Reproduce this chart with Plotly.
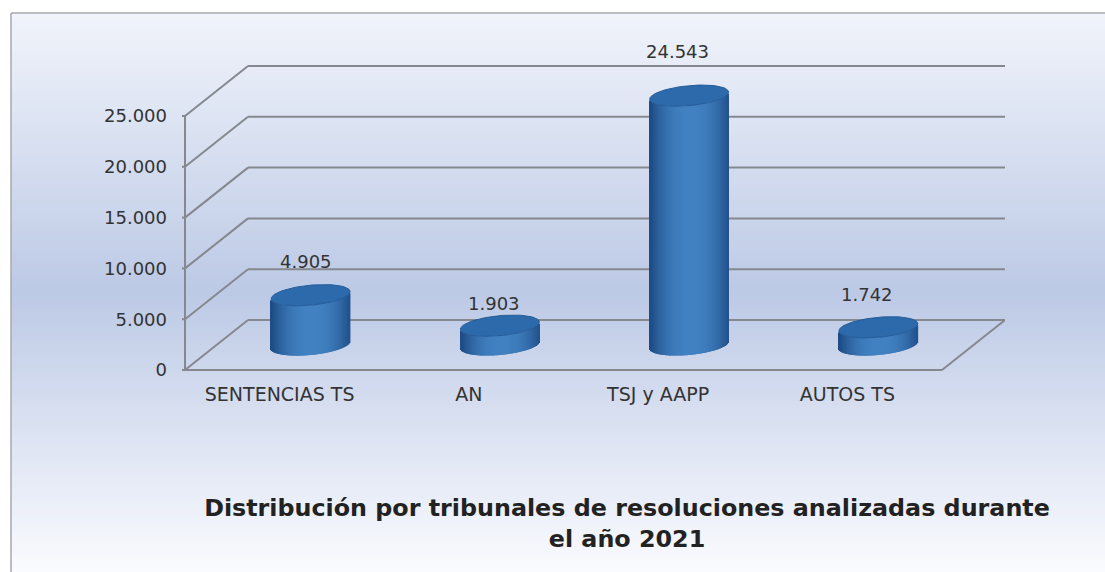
import numpy as np
import plotly.graph_objects as go

categories = ["SENTENCIAS TS", "AN", "TSJ y AAPP", "AUTOS TS"]
values = [4905, 1903, 24543, 1742]
value_labels = ["4.905", "1.903", "24.543", "1.742"]
y_ticks = [0, 5000, 10000, 15000, 20000, 25000]
y_tick_labels = ["0", "5.000", "10.000", "15.000", "20.000", "25.000"]
label_shift_x = [-5, -6, -12, -11]
label_shift_y = [34, 22, 44, 33]

PX_PER_CAT = 189.25
PX_PER_UNIT = 0.01016
DEPTH_X = 63 / PX_PER_CAT
DEPTH_Y = 50 / PX_PER_UNIT
X0, X1 = -0.5, 3.5
RX, RY, TILT = 39.5, 10.0, -0.09
CENTER_DX, CENTER_DY = 31 / PX_PER_CAT, 25 / PX_PER_UNIT
GRID = "#85888f"
TEXT = "#333333"
DARK = np.array([30, 76, 134])
BRIGHT = np.array([66, 130, 194])
CAP = "#2c6aab"
CAP_EDGE = "#255c99"

# plot-area box in page pixels
L, R, T, B = 181, 1005, 60, 374
W, H = R - L, B - T


def px(x):
    return (x - L) / W


def py(y):
    return (B - y) / H


fig = go.Figure()

# cylinders: each drawn as a fan of narrow bars with an elliptical base
for i, v in enumerate(values):
    cx = i + CENTER_DX
    dx_px = np.arange(-RX + 0.5, RX, 1.0)
    t = dx_px / RX
    low = TILT * dx_px + RY * np.sqrt(1 - t**2)      # px below floor centre
    base = CENTER_DY - low / PX_PER_UNIT
    shade = np.clip(1 - np.abs(t - 0.05) ** 2.2, 0, 1)
    cols = [f"rgb({a},{b},{c})" for a, b, c in
            (DARK + (BRIGHT - DARK)[None, :] * shade[:, None]).astype(int)]
    fig.add_trace(go.Bar(
        x=cx + dx_px / PX_PER_CAT, y=[v] * len(dx_px), base=base,
        width=1.6 / PX_PER_CAT, marker=dict(color=cols, line=dict(width=0)),
        hoverinfo="skip", showlegend=False))
    a = np.linspace(0, 2 * np.pi, 90)
    ex = RX * np.cos(a)
    ey = RY * np.sin(a) + TILT * ex
    fig.add_trace(go.Scatter(
        x=cx + ex / PX_PER_CAT, y=CENTER_DY + v - ey / PX_PER_UNIT,
        mode="lines", fill="toself", fillcolor=CAP,
        line=dict(color=CAP_EDGE, width=1), hoverinfo="skip", showlegend=False))
    fig.add_annotation(x=i, y=v + CENTER_DY, text=value_labels[i], showarrow=False,
                       xshift=31 + label_shift_x[i], yshift=label_shift_y[i],
                       font=dict(size=18, color=TEXT))

# background gradient
shapes = []
top, bottom, mid = 13, 572, 290
c_top, c_mid, c_bot = np.array([241, 244, 251]), np.array([189, 202, 230]), np.array([251, 252, 255])
for y in range(top, bottom, 4):
    if y < mid:
        c = c_top + (c_mid - c_top) * (y - top) / (mid - top)
    else:
        c = c_mid + (c_bot - c_mid) * (y - mid) / (bottom - mid)
    shapes.append(dict(type="rect", xref="paper", yref="paper", layer="below",
                       x0=px(11), x1=px(1105), y0=py(y + 4), y1=py(y),
                       fillcolor=f"rgb({int(c[0])},{int(c[1])},{int(c[2])})", line=dict(width=0)))
# frame
shapes.append(dict(type="line", xref="paper", yref="paper", layer="below",
                   x0=px(11), x1=px(1105), y0=py(13), y1=py(13),
                   line=dict(color="#a9a9ad", width=1.5)))
shapes.append(dict(type="line", xref="paper", yref="paper", layer="below",
                   x0=px(11), x1=px(11), y0=py(13), y1=py(572),
                   line=dict(color="#a9a9ad", width=1.5)))


def seg(x0, y0, x1, y1):
    shapes.append(dict(type="line", xref="x", yref="y", layer="below", x0=x0, y0=y0, x1=x1, y1=y1,
                       line=dict(color=GRID, width=2)))


for tk in y_ticks:
    seg(X0, tk, X0 + DEPTH_X, tk + DEPTH_Y)
    seg(X0 + DEPTH_X, tk + DEPTH_Y, X1 + DEPTH_X, tk + DEPTH_Y)
    seg(X0 - 3 / PX_PER_CAT, tk, X0, tk)
seg(X0, 0, X0, y_ticks[-1])
seg(X0, 0, X1, 0)
seg(X1, 0, X1 + DEPTH_X, DEPTH_Y)

fig.update_layout(
    width=1105, height=572, autosize=False,
    margin=dict(l=L, r=1105 - R, t=T, b=572 - B),
    paper_bgcolor="white", plot_bgcolor="rgba(0,0,0,0)",
    barmode="overlay", shapes=shapes, showlegend=False,
    font=dict(family="DejaVu Sans", size=18, color=TEXT),
    xaxis=dict(range=[X0 - 4 / PX_PER_CAT, X1 + DEPTH_X], tickmode="array", tickvals=list(range(4)),
               ticktext=categories, showgrid=False, zeroline=False, showline=False,
               ticks="", ticklabelstandoff=7, tickfont=dict(size=19, color=TEXT)),
    yaxis=dict(range=[-4 / PX_PER_UNIT, 310 / PX_PER_UNIT], tickmode="array", tickvals=y_ticks,
               ticktext=y_tick_labels, showgrid=False, zeroline=False, showline=False,
               ticks="", ticklabelstandoff=13, tickfont=dict(size=18, color=TEXT)),
    title=dict(text="<b>Distribución por tribunales de resoluciones analizadas durante<br>el año 2021</b>",
               x=627 / 1105, xanchor="center", y=1 - 516 / 572, yanchor="middle",
               font=dict(family="DejaVu Sans", size=23.8, color="#222222")),
)

fig.write_html("out.html", post_script="document.body.style.margin='0';document.body.style.overflow='hidden';",
               config=dict(displayModeBar=False))
